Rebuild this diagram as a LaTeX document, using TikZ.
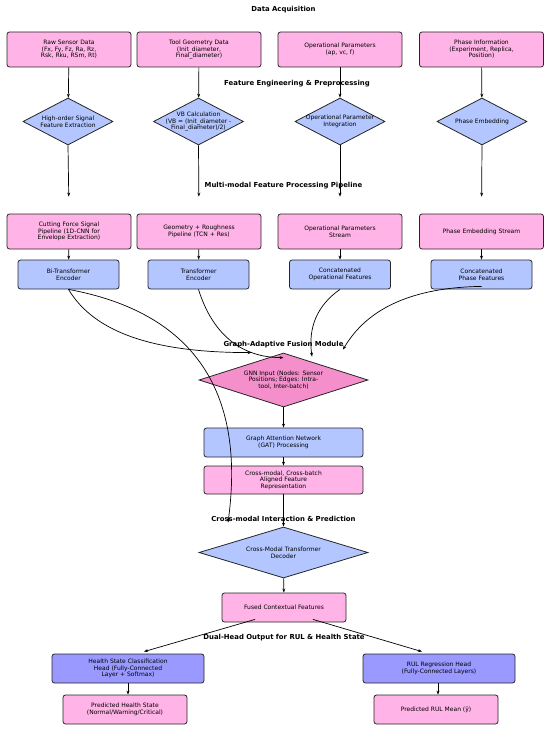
\documentclass[tikz,border=0pt]{standalone}
\usepackage{fontspec}
\setmainfont{DejaVu Sans}
\usetikzlibrary{arrows.meta,shapes.geometric}
\definecolor{boxpink}{RGB}{255,179,230}
\definecolor{boxblue}{RGB}{179,198,255}
\definecolor{headblue}{RGB}{153,153,255}
\definecolor{gnnpink}{RGB}{244,143,204}

\begin{document}
\begin{tikzpicture}[
        x=1pt,y=-1pt,
        font=\fontsize{6}{6.6}\selectfont,
        box/.style={draw=black!85,line width=0.8pt,rounded corners=2.5pt,align=center,inner sep=1pt},
        databox/.style={box,fill=boxpink,minimum width=124pt,minimum height=35pt},
        encbox/.style={box,fill=boxblue,minimum width=101pt,minimum height=29pt},
        widebox/.style={box,minimum width=159pt,minimum height=29pt},
        smallbox/.style={box,fill=boxpink,minimum width=124pt,minimum height=29pt},
        headbox/.style={box,fill=headblue,minimum width=152pt,minimum height=29pt},
        dmd/.style={diamond,draw=black!85,line width=0.8pt,fill=boxblue,inner sep=0pt,minimum width=90pt,minimum height=47pt},
        dtxt/.style={align=center,inner sep=0pt},
        stage/.style={font=\fontsize{6.9}{8}\selectfont\bfseries},
        link/.style={-{Stealth[length=4pt,width=3pt]},line width=0.7pt}
    ]
        \fill[white] (0,0) rectangle (550,733);
        \useasboundingbox (0,0) rectangle (550,733);

        % stage titles
        \node[stage] (tacq) at (283.5,9.5) {Data Acquisition};
        \node[stage] (tfeat) at (297,84) {Feature Engineering \& Preprocessing};
        \node[stage] (tpipe) at (283.5,185.5) {Multi-modal Feature Processing Pipeline};
        \node[stage] (tfuse) at (283.5,345) {Graph-Adaptive Fusion Module};
        \node[stage] (tcross) at (283.5,518.5) {Cross-modal Interaction \& Prediction};
        \node[stage] (thead) at (284,637.5) {Dual-Head Output for RUL \& Health State};

        % data acquisition
        \node[databox] (raw) at (69,49.5) {Raw Sensor Data\\(Fx, Fy, Fz, Ra, Rz,\\Rsk, Rku, RSm, Rt)};
        \node[databox] (geo) at (199,49.5) {Tool Geometry Data\\(Init\_diameter,\\Final\_diameter)};
        \node[databox] (opp) at (340,49.5) {Operational Parameters\\(ap, vc, f)};
        \node[databox] (phase) at (481.5,49.5) {Phase Information\\(Experiment, Replica,\\Position)};

        % feature engineering
        \node[dmd,label={[dtxt]center:{High-order Signal\\Feature Extraction}}] (hos) at (68,121.5) {};
        \node[dmd,label={[dtxt]center:{VB Calculation\\(VB = (Init\_diameter -\\Final\_diameter)/2)}}] (vb) at (198.5,121.5) {};
        \node[dmd,label={[dtxt]center:{Operational Parameter\\Integration}}] (opint) at (340,121.5) {};
        \node[dmd,label={[dtxt]center:{Phase Embedding}}] (phemb) at (482,121.5) {};

        % pipelines
        \node[databox] (cfp) at (69,231.5) {Cutting Force Signal\\Pipeline (1D-CNN for\\Envelope Extraction)};
        \node[databox] (grp) at (199,231.5) {Geometry + Roughness\\Pipeline (TCN + Res)};
        \node[databox] (ops) at (340,231.5) {Operational Parameters\\Stream};
        \node[databox] (pes) at (481.5,231.5) {Phase Embedding Stream};

        \node[encbox] (bienc) at (68.5,274.5) {Bi-Transformer\\Encoder};
        \node[encbox] (tenc) at (198.5,274.5) {Transformer\\Encoder};
        \node[encbox] (openc) at (340,274.5) {Concatenated\\Operational Features};
        \node[encbox] (phenc) at (481.5,274.5) {Concatenated\\Phase Features};

        % fusion
        \node[dmd,fill=gnnpink,minimum width=169pt,minimum height=54pt,
            label={[dtxt]center:{GNN Input (Nodes: Sensor\\Positions; Edges: Intra-\\tool, Inter-batch)}}] (gnn) at (283.5,380) {};
        \node[widebox,fill=boxblue] (gat) at (283.5,442.5) {Graph Attention Network\\(GAT) Processing};
        \node[widebox,fill=boxpink,minimum height=28pt] (aligned) at (283.5,480) {Cross-modal, Cross-batch\\Aligned Feature\\Representation};

        % interaction and output
        \node[dmd,minimum width=169pt,minimum height=51pt,
            label={[dtxt]center:{Cross-Modal Transformer\\Decoder}}] (dec) at (283.5,552.5) {};
        \node[smallbox] (fused) at (284,607.5) {Fused Contextual Features};
        \node[headbox] (hsc) at (128,668.5) {Health State Classification\\Head (Fully-Connected\\Layer + Softmax)};
        \node[headbox] (rul) at (439,668.5) {RUL Regression Head\\(Fully-Connected Layers)};
        \node[smallbox] (phs) at (125,709.5) {Predicted Health State\\(Normal/Warning/Critical)};
        \node[smallbox] (prul) at (436,709.5) {Predicted RUL Mean (ŷ)};

        \draw[link] (raw) -- (hos);
        \draw[link] (geo) -- (vb);
        \draw[link] (opp) -- (opint);
        \draw[link] (phase) -- (phemb);

        \draw[link,shorten >=17pt] (hos.south) -- (cfp.north);
        \draw[link,shorten >=17pt] (vb.south) -- (grp.north);
        \draw[link,shorten >=17pt] (opint.south) -- (ops.north);
        \draw[link,shorten >=17pt] (phemb.south) -- (pes.north);

        \draw[link] (cfp) -- (bienc);
        \draw[link] (grp) -- (tenc);
        \draw[link] (ops) -- (openc);
        \draw[link] (pes) -- (phenc);

        \draw[link] (bienc.south) .. controls +(27,45) and +(-94,0) .. ([xshift=-32pt]gnn.north);
        \draw[link] (tenc.south) .. controls +(14,45) and +(-42,0) .. ([yshift=-5pt]gnn.north);
        \draw[link] (openc.south) .. controls +(-23,16) and +(-4,-29) .. ([xshift=28.5pt,yshift=-4pt]gnn.north);
        \draw[link] ([yshift=3pt]phenc.south) .. controls +(-69.5,1) and +(24,-41) .. ([xshift=59.5pt,yshift=3pt]gnn.north);
        \draw[link] (bienc.south) .. controls +(124.5,23) and +(18,-132) .. ([xshift=-55.5pt,yshift=4pt]dec.north);

        \draw[link] (gnn) -- (gat);
        \draw[link] (gat) -- (aligned);
        \draw[link] (aligned) -- (dec);
        \draw[link] (dec) -- (fused);

        \draw[link] ([xshift=-29pt,yshift=3pt]fused.south) -- ([xshift=16pt,yshift=2pt]hsc.north);
        \draw[link] ([xshift=29pt,yshift=3pt]fused.south) -- ([xshift=-17pt,yshift=2pt]rul.north);
        \draw[link] (hsc.south) -- (hsc.south |- phs.north);
        \draw[link] ([xshift=-1pt]rul.south) -- ([xshift=-1pt]rul.south |- prul.north);
    \end{tikzpicture}
\end{document}
